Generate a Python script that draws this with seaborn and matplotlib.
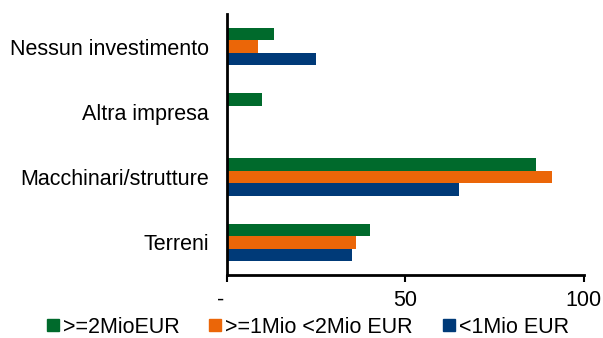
import numpy as np
import pandas as pd
import matplotlib
matplotlib.use("Agg")
import matplotlib.pyplot as plt
from matplotlib.lines import Line2D
import seaborn as sns

# Data
categories = ["Nessun investimento", "Altra impresa", "Macchinari/strutture", "Terreni"]
series = [">=2MioEUR", ">=1Mio <2Mio EUR", "<1Mio EUR"]
val_big = [13.2, 9.9, 86.7, 40.0]
val_mid = [8.9, 0.0, 91.0, 36.3]
val_small = [24.9, 0.0, 65.0, 35.0]
colors = ["#006A2C", "#EB6608", "#003A78"]

rows = []
for name, vals in zip(series, [val_big, val_mid, val_small]):
    for cat, v in zip(categories, vals):
        rows.append({"cat": cat, "group": name, "value": v})
df = pd.DataFrame(rows)

sns.set_style("white")
plt.rcParams["font.family"] = ["Liberation Sans", "DejaVu Sans"]
plt.rcParams["text.color"] = "black"
plt.rcParams["xtick.color"] = "black"
plt.rcParams["ytick.color"] = "black"

fig = plt.figure(figsize=(6.03, 3.38), dpi=100)
ax = fig.add_axes([0.376, 0.186, 0.592, 0.773])

sns.barplot(data=df, y="cat", x="value", hue="group", order=categories,
            hue_order=series, palette=colors, orient="h", width=0.575,
            saturation=1, linewidth=0, ax=ax, legend=False)

ax.set_xlim(0, 100)
ax.set_xticks([0, 50, 100])
ax.set_xticklabels(["-  ", "50", "100"])
ax.set_xlabel("")
ax.set_ylabel("")
ax.tick_params(axis="x", direction="out", length=5, width=1.5,
               labelsize=15.5, pad=6, bottom=True)
ax.tick_params(axis="y", length=0, labelsize=15.5, pad=13)
for s in ["top", "right"]:
    ax.spines[s].set_visible(False)
for s in ["left", "bottom"]:
    ax.spines[s].set_color("black")
    ax.spines[s].set_linewidth(2)

handles = [Line2D([0], [0], marker="s", linestyle="", markersize=8,
                  markerfacecolor=c, markeredgecolor=c) for c in colors]
fig.legend(handles, series, loc="center", bbox_to_anchor=(0.511, 0.032),
           ncol=3, frameon=False, fontsize=15.5, handletextpad=0.23,
           columnspacing=1.4, handlelength=0.5, borderpad=0)

fig.savefig("out.png", dpi=100)
